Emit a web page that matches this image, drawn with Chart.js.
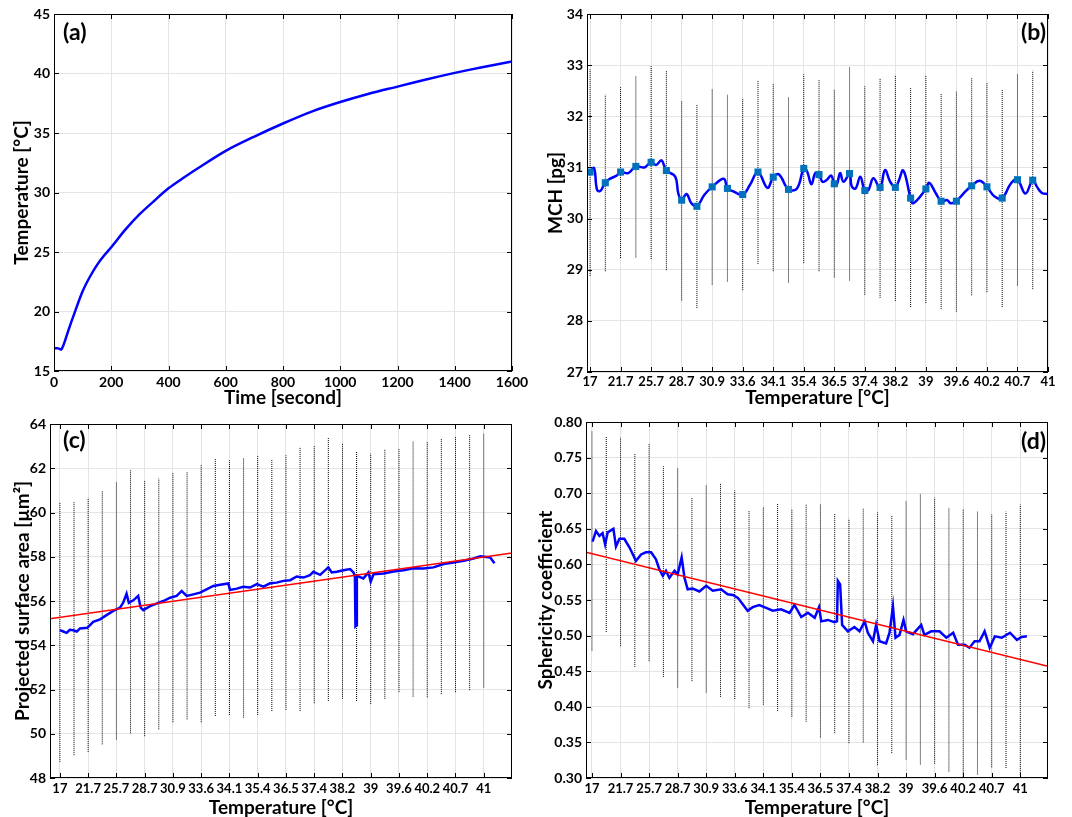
<!DOCTYPE html>
<html>
<head>
<meta charset="utf-8">
<script src="https://cdn.jsdelivr.net/npm/chart.js@4.4.1/dist/chart.umd.min.js"></script>
<style>
  body { margin: 0; background: #fff; }
  #wrap { position: relative; width: 1072px; height: 817px; }
  canvas { position: absolute; }
</style>
</head>
<body>
<div id="wrap">
  <canvas id="chartA" width="536" height="410" style="left:0;top:0"></canvas>
  <canvas id="chartB" width="536" height="410" style="left:536px;top:0"></canvas>
  <canvas id="chartC" width="536" height="407" style="left:0;top:410px"></canvas>
  <canvas id="chartD" width="536" height="407" style="left:536px;top:410px"></canvas>
</div>
<script>
// ---- data ----
// (a) temperature vs time, [seconds, °C]
const heatingCurve = [
  [0, 16.9], [15, 16.9], [25, 16.8], [35, 17.3], [50, 18.4], [75, 20.1], [100, 21.7],
  [125, 22.9], [150, 23.9], [175, 24.7], [200, 25.4], [250, 26.9], [300, 28.2], [350, 29.3],
  [400, 30.35], [450, 31.2], [500, 32.0], [600, 33.5], [700, 34.7], [800, 35.8],
  [900, 36.8], [1000, 37.6], [1100, 38.3], [1200, 38.9], [1300, 39.5], [1400, 40.05],
  [1500, 40.55], [1600, 41.0]
];

// temperature labels shown at every 100 s on panels b-d
const tempTickTimes = [0, 100, 200, 300, 400, 500, 600, 700, 800, 900, 1000, 1100, 1200, 1300, 1400, 1500];
const tempLabels = ['17', '21.7', '25.7', '28.7', '30.9', '33.6', '34.1', '35.4', '36.5', '37.4', '38.2', '39', '39.6', '40.2', '40.7', '41'];

// (b) MCH: mean markers + spread every 50 s
const mchTimes = [0, 50, 100, 150, 200, 250, 300, 350, 400, 450, 500, 550, 600, 650, 700,
  750, 800, 850, 900, 950, 1000, 1050, 1100, 1150, 1200, 1250, 1300, 1350, 1400, 1450];
const mchMean = [30.91, 30.70, 30.91, 31.02, 31.10, 30.94, 30.36, 30.24, 30.62, 30.59, 30.47, 30.91, 30.81, 30.57, 30.98,
  30.86, 30.68, 30.88, 30.55, 30.61, 30.61, 30.40, 30.58, 30.34, 30.34, 30.64, 30.62, 30.40, 30.76, 30.75];
const mchHigh = [32.92, 32.42, 32.57, 32.78, 32.98, 32.89, 32.30, 32.22, 32.53, 32.42, 32.34, 32.71, 32.64, 32.37, 32.82,
  32.71, 32.53, 32.97, 32.59, 32.74, 32.81, 32.55, 32.81, 32.45, 32.49, 32.76, 32.66, 32.53, 32.82, 32.89];
const mchLow = [28.88, 28.97, 29.23, 29.24, 29.21, 28.99, 28.40, 28.25, 28.71, 28.77, 28.60, 29.11, 28.97, 28.75, 29.13,
  28.97, 28.85, 28.79, 28.51, 28.45, 28.39, 28.27, 28.35, 28.23, 28.18, 28.50, 28.56, 28.27, 28.69, 28.62];
const mchCurve = [
  [-10, 30.9], [0, 30.91], [13, 30.99], [23, 30.56], [34, 30.54], [50, 30.71], [66, 30.78], [87, 30.84],
  [100, 30.91], [125, 30.89], [150, 31.02], [178, 31.0], [200, 31.10], [217, 31.05], [234, 31.14],
  [250, 30.94], [279, 30.82], [289, 30.49], [300, 30.36], [316, 30.48], [332, 30.30], [350, 30.24],
  [374, 30.46], [400, 30.62], [438, 30.78], [450, 30.59], [470, 30.53], [500, 30.47], [524, 30.66],
  [550, 30.91], [581, 30.60], [600, 30.81], [619, 30.86], [650, 30.57], [678, 30.59], [700, 30.98],
  [711, 30.92], [725, 30.67], [738, 30.89], [750, 30.87], [761, 30.72], [776, 30.76], [790, 30.84],
  [800, 30.68], [808, 30.66], [819, 30.89], [830, 30.72], [850, 30.87], [857, 30.63], [870, 30.59],
  [885, 30.82], [900, 30.55], [912, 30.56], [928, 30.79], [950, 30.60], [966, 30.95], [983, 30.72],
  [1000, 30.61], [1010, 30.72], [1026, 30.94], [1050, 30.40], [1059, 30.30], [1100, 30.58],
  [1111, 30.70], [1133, 30.49], [1150, 30.34], [1170, 30.36], [1181, 30.30], [1200, 30.34],
  [1223, 30.49], [1250, 30.64], [1276, 30.74], [1300, 30.62], [1325, 30.43], [1350, 30.40],
  [1379, 30.69], [1400, 30.76], [1426, 30.49], [1450, 30.75], [1464, 30.62], [1480, 30.50], [1500, 30.48]
];

// (c) projected surface area, spread every 50 s
const spreadTimes = [0, 50, 100, 150, 200, 250, 300, 350, 400, 450, 500, 550, 600, 650, 700, 750,
  800, 850, 900, 950, 1000, 1050, 1100, 1150, 1200, 1250, 1300, 1350, 1400, 1450, 1500];
const areaHigh = [60.47, 60.50, 60.65, 60.97, 61.38, 61.94, 61.42, 61.53, 61.79, 61.83, 62.14, 62.44, 62.36, 62.47, 62.55, 62.39,
  62.59, 62.97, 63.02, 63.38, 63.12, 62.74, 62.67, 62.86, 62.86, 63.20, 63.20, 63.35, 63.42, 63.53, 63.58];
const areaLow = [48.73, 49.03, 49.18, 49.52, 49.74, 50.02, 49.89, 50.20, 50.52, 50.65, 50.52, 50.80, 50.85, 50.73, 50.85, 51.03,
  51.08, 51.03, 51.38, 51.48, 51.58, 51.48, 51.35, 51.58, 51.88, 51.68, 51.65, 51.79, 51.88, 51.97, 52.09];
const areaCurve = [
  [0, 54.68], [12, 54.62], [24, 54.56], [35, 54.70], [47, 54.68], [60, 54.62], [71, 54.76], [97, 54.79],
  [118, 55.06], [142, 55.17], [165, 55.36], [189, 55.55], [213, 55.70], [224, 55.92], [236, 56.33],
  [244, 55.92], [260, 56.03], [277, 56.23], [286, 55.70], [295, 55.59], [319, 55.77], [342, 55.88],
  [366, 56.00], [390, 56.15], [413, 56.23], [431, 56.45], [449, 56.23], [472, 56.30], [496, 56.38],
  [519, 56.53], [543, 56.68], [567, 56.73], [596, 56.79], [602, 56.50], [626, 56.56], [649, 56.64],
  [673, 56.61], [697, 56.76], [720, 56.65], [744, 56.80], [767, 56.83], [791, 56.91], [815, 56.94],
  [838, 57.11], [862, 57.06], [885, 57.17], [897, 57.32], [921, 57.18], [950, 57.52], [962, 57.29],
  [980, 57.32], [1004, 57.39], [1027, 57.44], [1039, 57.29], [1044, 57.10], [1046, 54.86], [1049, 54.90],
  [1051, 57.14], [1074, 57.02], [1092, 57.29], [1100, 56.88], [1110, 57.21], [1145, 57.24], [1181, 57.33],
  [1216, 57.39], [1251, 57.48], [1287, 57.47], [1322, 57.52], [1358, 57.67], [1393, 57.74], [1429, 57.82],
  [1464, 57.92], [1488, 58.02], [1523, 57.97], [1538, 57.71]
];
const areaFit = [[-35, 55.20], [1600, 58.17]];

// (d) sphericity coefficient
const sphHigh = [0.788, 0.780, 0.778, 0.755, 0.769, 0.738, 0.735, 0.694, 0.711, 0.714, 0.704, 0.676, 0.681, 0.685, 0.678, 0.684,
  0.684, 0.671, 0.664, 0.679, 0.673, 0.669, 0.689, 0.699, 0.694, 0.680, 0.677, 0.674, 0.670, 0.674, 0.684];
const sphLow = [0.479, 0.505, 0.485, 0.456, 0.464, 0.442, 0.427, 0.436, 0.420, 0.414, 0.411, 0.398, 0.403, 0.394, 0.386, 0.379,
  0.357, 0.363, 0.349, 0.350, 0.318, 0.335, 0.326, 0.319, 0.320, 0.309, 0.299, 0.305, 0.315, 0.314, 0.304];
const sphCurve = [
  [2, 0.632], [14, 0.647], [26, 0.640], [37, 0.644], [46, 0.628], [55, 0.645], [75, 0.650], [84, 0.625],
  [96, 0.636], [113, 0.636], [131, 0.624], [154, 0.605], [172, 0.614], [189, 0.617], [207, 0.617],
  [224, 0.607], [236, 0.593], [248, 0.584], [259, 0.591], [271, 0.581], [289, 0.591], [300, 0.586],
  [314, 0.610], [324, 0.581], [335, 0.565], [353, 0.566], [376, 0.562], [400, 0.570], [423, 0.563],
  [452, 0.565], [475, 0.558], [493, 0.557], [511, 0.553], [528, 0.544], [545, 0.535], [563, 0.540],
  [586, 0.543], [610, 0.539], [633, 0.535], [662, 0.537], [692, 0.532], [709, 0.543], [733, 0.526],
  [756, 0.532], [780, 0.525], [795, 0.540], [803, 0.520], [826, 0.522], [849, 0.519], [858, 0.520],
  [861, 0.577], [869, 0.572], [876, 0.515], [896, 0.506], [919, 0.512], [937, 0.506], [955, 0.520],
  [966, 0.504], [984, 0.492], [995, 0.515], [1007, 0.492], [1030, 0.489], [1042, 0.504], [1054, 0.541],
  [1063, 0.497], [1077, 0.501], [1091, 0.522], [1100, 0.506], [1124, 0.502], [1153, 0.515], [1164, 0.501],
  [1188, 0.506], [1217, 0.506], [1241, 0.497], [1265, 0.504], [1282, 0.487], [1305, 0.487], [1322, 0.483],
  [1340, 0.492], [1357, 0.492], [1375, 0.506], [1393, 0.483], [1411, 0.499], [1435, 0.497], [1464, 0.504],
  [1488, 0.494], [1505, 0.498], [1523, 0.499]
];
const sphFit = [[-21, 0.617], [1597, 0.457]];

// ---- styling helpers ----
const FONT = 'Lato';
const GRID = '#e4e4e4';
const BLUE = '#0000ff';

function boldFont(size) {
  return { family: FONT, weight: 'bold', size: size, lineHeight: 1 };
}

// dotted vertical spread lines, separated by null gaps
function spreadSegments(times, lo, hi) {
  const pts = [];
  times.forEach((t, i) => {
    pts.push([t, lo[i]], [t, hi[i]], [t, null]);
  });
  return pts;
}

function spreadDataset(times, lo, hi) {
  return {
    data: spreadSegments(times, lo, hi),
    borderColor: '#000',
    borderWidth: 1,
    borderDash: [1, 1],
    pointRadius: 0,
    spanGaps: false,
    tension: 0
  };
}

// box around the plot, inward ticks on all sides, panel letter
const framePlugin = {
  id: 'frame',
  afterDraw(chart, args, opts) {
    const { ctx, chartArea: a, scales } = chart;
    ctx.save();
    ctx.strokeStyle = '#000';
    ctx.lineWidth = 1;
    ctx.strokeRect(Math.round(a.left) + 0.5, Math.round(a.top) + 0.5,
      Math.round(a.right - a.left) - 1, Math.round(a.bottom - a.top) - 1);
    const len = 5;
    ctx.beginPath();
    scales.x.ticks.forEach(t => {
      const px = Math.round(scales.x.getPixelForValue(t.value)) + 0.5;
      ctx.moveTo(px, a.bottom); ctx.lineTo(px, a.bottom - len);
      ctx.moveTo(px, a.top); ctx.lineTo(px, a.top + len);
    });
    scales.y.ticks.forEach(t => {
      const py = Math.round(scales.y.getPixelForValue(t.value)) + 0.5;
      ctx.moveTo(a.left, py); ctx.lineTo(a.left + len, py);
      ctx.moveTo(a.right, py); ctx.lineTo(a.right - len, py);
    });
    ctx.stroke();

    ctx.font = 'bold 23px ' + FONT;
    ctx.fillStyle = '#000';
    ctx.textBaseline = 'middle';
    if (opts.side === 'left') {
      ctx.textAlign = 'left';
      ctx.fillText(opts.label, a.left + opts.dx, a.top + opts.dy);
    } else {
      ctx.textAlign = 'right';
      ctx.fillText(opts.label, a.right - opts.dx, a.top + opts.dy);
    }
    ctx.restore();
  }
};

function panelOptions(p) {
  return {
    responsive: false,
    animation: false,
    layout: { padding: { top: p.top, right: 24, left: 0, bottom: 0 }, autoPadding: false },
    plugins: {
      legend: { display: false },
      tooltip: { enabled: false },
      frame: { label: p.label, side: p.side, dx: p.dx, dy: p.dy }
    },
    elements: { point: { radius: 0 } },
    scales: {
      x: {
        type: 'linear',
        min: p.xMin,
        max: p.xMax,
        grid: { color: GRID, drawTicks: false },
        border: { display: false },
        afterBuildTicks: s => { s.ticks = p.xTicks.map(v => ({ value: v })); },
        afterFit: s => { s.height = p.xHeight; },
        ticks: {
          font: boldFont(p.xFontSize), color: '#000', padding: p.xPad,
          maxRotation: 0, autoSkip: false, callback: p.xFormat
        },
        title: {
          display: true, text: p.xTitle, font: boldFont(19), color: '#000',
          padding: { top: 0, bottom: p.xTitlePad }
        }
      },
      y: {
        min: p.yMin,
        max: p.yMax,
        grid: { color: GRID, drawTicks: false },
        border: { display: false },
        afterFit: s => { s.width = p.yWidth; },
        ticks: {
          font: boldFont(14), color: '#000', padding: 4,
          stepSize: p.yStep, callback: p.yFormat
        },
        title: {
          display: true, text: p.yTitle, font: boldFont(19), color: '#000',
          padding: { top: p.yTitlePad, bottom: 0 }
        }
      }
    }
  };
}

const tempFormat = v => tempLabels[Math.round(v / 100)];

// (a)
new Chart(document.getElementById('chartA'), {
  type: 'line',
  data: {
    datasets: [{ data: heatingCurve, borderColor: BLUE, borderWidth: 2.5, tension: 0.3 }]
  },
  options: panelOptions({
    label: '(a)', side: 'left', dx: 9, dy: 19, top: 14,
    xMin: 0, xMax: 1600, xTicks: [0, 200, 400, 600, 800, 1000, 1200, 1400, 1600], xFormat: v => v,
    xHeight: 39, xPad: 4, xFontSize: 14, xTitle: 'Time [second]', xTitlePad: 2.5,
    yMin: 15, yMax: 45, yStep: 5, yFormat: v => v, yWidth: 54,
    yTitle: 'Temperature [°C]', yTitlePad: 12
  }),
  plugins: [framePlugin]
});

// (b)
new Chart(document.getElementById('chartB'), {
  type: 'line',
  data: {
    datasets: [
      {
        data: mchTimes.map((t, i) => [t, mchMean[i]]), showLine: false,
        pointStyle: 'rect', pointRadius: 5, backgroundColor: '#0072BD', borderColor: '#0072BD', borderWidth: 0
      },
      { data: mchCurve, borderColor: BLUE, borderWidth: 2.5, tension: 0.4 },
      spreadDataset(mchTimes, mchLow, mchHigh)
    ]
  },
  options: panelOptions({
    label: '(b)', side: 'right', dx: 2, dy: 19, top: 14,
    xMin: -10, xMax: 1500, xTicks: tempTickTimes, xFormat: tempFormat,
    xHeight: 38, xPad: 3, xFontSize: 13, xTitle: 'Temperature [°C]', xTitlePad: 2.5,
    yMin: 27, yMax: 34, yStep: 1, yFormat: v => v, yWidth: 51,
    yTitle: 'MCH [pg]', yTitlePad: 10.5
  }),
  plugins: [framePlugin]
});

// (c)
new Chart(document.getElementById('chartC'), {
  type: 'line',
  data: {
    datasets: [
      { data: areaFit, borderColor: '#ff0000', borderWidth: 1.5, tension: 0 },
      { data: areaCurve, borderColor: BLUE, borderWidth: 2.5, tension: 0 },
      spreadDataset(spreadTimes, areaLow, areaHigh)
    ]
  },
  options: panelOptions({
    label: '(c)', side: 'left', dx: 13, dy: 17, top: 14,
    xMin: -35, xMax: 1600, xTicks: tempTickTimes, xFormat: tempFormat,
    xHeight: 39, xPad: 4, xFontSize: 13, xTitle: 'Temperature [°C]', xTitlePad: 0,
    yMin: 48, yMax: 64, yStep: 2, yFormat: v => v, yWidth: 50,
    yTitle: 'Projected surface area [µm²]', yTitlePad: 13
  }),
  plugins: [framePlugin]
});

// (d)
new Chart(document.getElementById('chartD'), {
  type: 'line',
  data: {
    datasets: [
      { data: sphFit, borderColor: '#ff0000', borderWidth: 1.5, tension: 0 },
      { data: sphCurve, borderColor: BLUE, borderWidth: 2.5, tension: 0 },
      spreadDataset(spreadTimes, sphLow, sphHigh)
    ]
  },
  options: panelOptions({
    label: '(d)', side: 'right', dx: 2, dy: 20, top: 12,
    xMin: -21, xMax: 1597, xTicks: tempTickTimes, xFormat: tempFormat,
    xHeight: 39, xPad: 4, xFontSize: 13, xTitle: 'Temperature [°C]', xTitlePad: 0,
    yMin: 0.3, yMax: 0.8, yStep: 0.05, yFormat: v => v.toFixed(2), yWidth: 50,
    yTitle: 'Sphericity coefficient', yTitlePad: 0
  }),
  plugins: [framePlugin]
});
</script>
</body>
</html>
